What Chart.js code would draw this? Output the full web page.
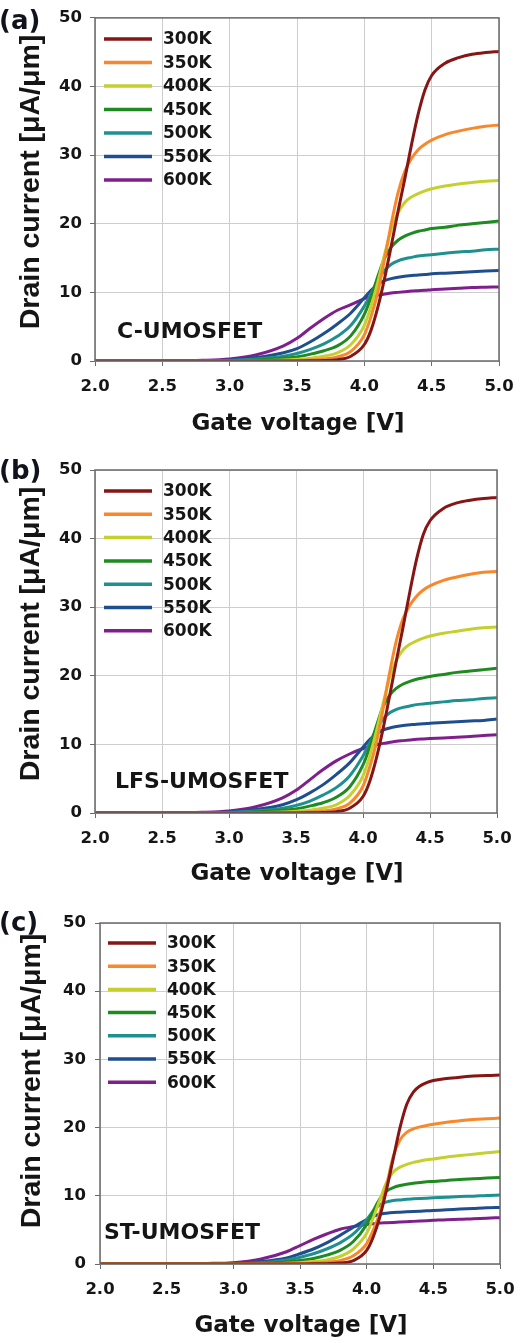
<!DOCTYPE html>
<html>
<head>
<meta charset="utf-8">
<script src="https://cdn.jsdelivr.net/npm/chart.js@4.4.1/dist/chart.umd.min.js"></script>
<style>
  html, body { margin: 0; padding: 0; background: #fff; }
  body { width: 528px; height: 1343px; position: relative; overflow: hidden; }
  canvas { position: absolute; left: 0; }
</style>
</head>
<body>
<canvas id="panelA" width="528" height="450" style="top:0px"></canvas>
<canvas id="panelB" width="528" height="450" style="top:450px"></canvas>
<canvas id="panelC" width="528" height="443" style="top:900px"></canvas>
<script>
// ---- data ----
const gateVoltage = [2.0, 2.5, 2.8, 3.0, 3.2, 3.4, 3.5, 3.6, 3.7, 3.8, 3.9, 4.0, 4.05, 4.1, 4.15,
                     4.2, 4.25, 4.3, 4.35, 4.4, 4.45, 4.5, 4.6, 4.7, 4.8, 4.9, 5.0];
const temperatures = ['300K', '350K', '400K', '450K', '500K', '550K', '600K'];
const xTicks = [2.0, 2.5, 3.0, 3.5, 4.0, 4.5, 5.0];
const yTicks = [0, 10, 20, 30, 40, 50];

// (a) C-UMOSFET
const cumos300 = [0,0,0,0,0,0.01,0.01,0.02,0.06,0.2,0.7,2.4,4.5,7.8,12.0,16.8,21.8,26.5,31.5,36.0,39.5,41.6,43.4,44.2,44.7,44.95,45.1];
const cumos350 = [0,0,0,0,0.02,0.05,0.08,0.15,0.3,0.6,1.4,3.8,6.5,10.0,14.8,20.0,24.5,27.6,29.5,30.8,31.6,32.2,33.0,33.5,33.9,34.2,34.4];
const cumos400 = [0,0,0,0.02,0.06,0.15,0.25,0.4,0.7,1.2,2.4,5.2,8.0,11.5,15.5,19.2,21.6,23.1,23.9,24.4,24.8,25.1,25.5,25.8,26.0,26.2,26.3];
const cumos450 = [0,0,0.01,0.04,0.15,0.4,0.6,1.0,1.5,2.2,3.7,6.8,9.3,12.3,15.0,16.6,17.6,18.2,18.6,18.9,19.1,19.3,19.5,19.8,20.0,20.2,20.4];
const cumos500 = [0,0,0.02,0.08,0.3,0.7,1.1,1.7,2.5,3.6,5.2,8.0,9.8,11.8,13.2,14.1,14.6,14.9,15.1,15.3,15.4,15.5,15.7,15.9,16.0,16.2,16.3];
const cumos550 = [0,0.01,0.05,0.15,0.5,1.2,1.8,2.8,4.0,5.4,7.0,9.2,10.3,11.2,11.7,12.0,12.2,12.35,12.45,12.55,12.6,12.7,12.8,12.9,13.0,13.1,13.2];
const cumos600 = [0,0.02,0.1,0.3,0.9,2.2,3.3,4.8,6.2,7.4,8.2,9.1,9.4,9.6,9.75,9.9,10.0,10.1,10.2,10.25,10.3,10.4,10.5,10.6,10.7,10.75,10.8];

// (b) LFS-UMOSFET
const lfs300 = [0,0,0,0,0,0.01,0.01,0.02,0.06,0.2,0.7,2.4,4.6,8.0,12.3,17.2,22.3,27.2,32.3,37.0,40.6,42.6,44.4,45.2,45.6,45.85,46.0];
const lfs350 = [0,0,0,0,0.02,0.05,0.08,0.15,0.3,0.6,1.4,3.9,6.7,10.3,15.2,20.6,25.2,28.4,30.3,31.6,32.5,33.1,33.9,34.4,34.8,35.1,35.2];
const lfs400 = [0,0,0,0.02,0.06,0.15,0.25,0.4,0.7,1.2,2.5,5.4,8.3,11.9,16.0,19.8,22.3,23.8,24.6,25.1,25.5,25.8,26.2,26.5,26.8,27.0,27.1];
const lfs450 = [0,0,0.01,0.04,0.15,0.4,0.6,1.0,1.5,2.3,3.8,7.0,9.6,12.7,15.5,17.2,18.2,18.8,19.2,19.5,19.7,19.9,20.2,20.5,20.7,20.9,21.1];
const lfs500 = [0,0,0.02,0.08,0.3,0.7,1.1,1.7,2.6,3.7,5.4,8.3,10.2,12.2,13.7,14.6,15.1,15.4,15.6,15.8,15.9,16.0,16.2,16.4,16.5,16.7,16.8];
const lfs550 = [0,0.01,0.05,0.15,0.5,1.2,1.9,2.9,4.1,5.6,7.3,9.6,10.7,11.6,12.1,12.4,12.6,12.75,12.85,12.95,13.0,13.1,13.2,13.3,13.4,13.5,13.7];
const lfs600 = [0,0.02,0.1,0.3,0.9,2.2,3.3,4.8,6.3,7.6,8.6,9.4,9.7,9.95,10.15,10.3,10.45,10.55,10.65,10.75,10.8,10.85,10.95,11.05,11.15,11.3,11.4];

// (c) ST-UMOSFET
const st300 = [0,0,0,0,0,0,0.01,0.02,0.05,0.15,0.5,2.0,4.0,7.0,11.0,15.5,20.0,23.4,25.2,26.1,26.6,26.9,27.2,27.4,27.55,27.65,27.7];
const st350 = [0,0,0,0,0.01,0.04,0.07,0.12,0.25,0.5,1.2,3.0,5.0,7.6,11.6,15.8,18.2,19.3,19.8,20.1,20.3,20.5,20.8,21.0,21.2,21.3,21.4];
const st400 = [0,0,0,0.01,0.04,0.12,0.2,0.35,0.6,1.1,2.2,4.5,6.8,9.5,12.0,13.5,14.2,14.6,14.9,15.1,15.3,15.4,15.7,15.9,16.1,16.3,16.5];
const st450 = [0,0,0.01,0.03,0.1,0.3,0.5,0.8,1.3,2.0,3.3,5.8,7.8,9.6,10.7,11.2,11.5,11.7,11.85,11.95,12.05,12.1,12.25,12.4,12.5,12.6,12.7];
const st500 = [0,0,0.02,0.06,0.2,0.6,1.0,1.5,2.2,3.1,4.4,6.5,7.8,8.7,9.1,9.3,9.4,9.5,9.55,9.6,9.65,9.7,9.8,9.9,9.95,10.05,10.1];
const st550 = [0,0.01,0.04,0.1,0.35,0.9,1.5,2.2,3.1,4.2,5.4,6.5,7.0,7.3,7.45,7.55,7.6,7.65,7.7,7.75,7.8,7.85,7.95,8.05,8.15,8.25,8.3];
const st600 = [0,0.02,0.08,0.2,0.7,1.8,2.7,3.6,4.4,5.1,5.5,5.8,5.9,6.0,6.05,6.1,6.15,6.2,6.25,6.3,6.35,6.4,6.5,6.55,6.65,6.7,6.8];

// line colours, one per temperature
const lineColors = ['#861515', '#f7882c', '#c4d02e', '#1f8a20', '#1f9090', '#1f4e8e', '#7e1f8c'];

const FONT = 'DejaVu Sans';
const TITLE_FONT = 'Liberation Sans';
const TEXT = '#151515';

// frame, legend, panel label and axis titles
const decorations = {
    id: 'decorations',
    afterDatasetsDraw(chart, args, o) {
        const { ctx, chartArea: a } = chart;
        ctx.save();

        // plot frame
        ctx.strokeStyle = '#6a6a6a';
        ctx.lineWidth = 1.5;
        ctx.strokeRect(a.left, a.top, a.right - a.left, a.bottom - a.top);

        // legend (top-left inside the plot)
        ctx.font = `bold ${o.legendSize}px "${FONT}"`;
        ctx.textBaseline = 'middle';
        ctx.textAlign = 'left';
        chart.data.datasets.forEach((ds, i) => {
            const y = a.top + o.legendTop + i * o.legendStep;
            ctx.strokeStyle = ds.borderColor;
            ctx.lineWidth = 3.5;
            ctx.beginPath();
            ctx.moveTo(a.left + o.legendX, y);
            ctx.lineTo(a.left + o.legendX + 48, y);
            ctx.stroke();
            ctx.fillStyle = TEXT;
            ctx.fillText(ds.label, a.left + o.legendX + 59, y + 1);
        });

        // device name
        ctx.font = `bold 22px "${FONT}"`;
        ctx.fillText(o.device, a.left + o.deviceX, a.bottom - o.deviceY);

        // x title
        ctx.font = `bold 23px "${FONT}"`;
        ctx.textAlign = 'center';
        ctx.fillText('Gate voltage [V]', (a.left + a.right) / 2 + 1, o.xTitleY);

        // panel label
        ctx.textAlign = 'left';
        ctx.textBaseline = 'alphabetic';
        ctx.font = `bold 26px "${FONT}"`;
        ctx.fillStyle = '#10131c';
        ctx.fillText(o.panel, -1, o.panelY);

        // y title
        ctx.fillStyle = TEXT;
        ctx.textAlign = 'center';
        ctx.textBaseline = 'middle';
        ctx.font = `bold 28.5px "${TITLE_FONT}"`;
        ctx.translate(o.yTitleX, o.yTitleY);
        ctx.rotate(-Math.PI / 2);
        ctx.fillText('Drain current [\u03bcA/\u03bcm]', 0, 0);

        ctx.restore();
    }
};

function makePanel(canvasId, series, p) {
    const datasets = temperatures.map((t, i) => ({
        label: t,
        data: gateVoltage.map((v, k) => ({ x: v, y: series[i][k] })),
        borderColor: lineColors[i],
        borderWidth: 3,
        pointRadius: 0,
        fill: false,
        cubicInterpolationMode: 'monotone'
    }));

    return new Chart(document.getElementById(canvasId), {
        type: 'line',
        data: { datasets },
        options: {
            responsive: false,
            animation: false,
            devicePixelRatio: 1,
            layout: { padding: { left: 0, top: p.top, right: p.right, bottom: 0 } },
            plugins: {
                legend: { display: false },
                tooltip: { enabled: false },
                decorations: p.deco
            },
            scales: {
                x: {
                    type: 'linear',
                    min: 2, max: 5,
                    afterBuildTicks: s => { s.ticks = xTicks.map(v => ({ value: v })); },
                    afterFit: s => { s.height = p.xHeight; },
                    grid: { color: '#cdcdcd', lineWidth: 1, tickLength: 5, tickColor: '#6a6a6a' },
                    border: { display: false },
                    ticks: {
                        padding: 11,
                        color: TEXT,
                        font: { family: FONT, size: 16.5, weight: 'bold' },
                        callback: v => v.toFixed(1),
                        maxRotation: 0
                    }
                },
                y: {
                    type: 'linear',
                    min: 0, max: 50,
                    afterBuildTicks: s => { s.ticks = yTicks.map(v => ({ value: v })); },
                    afterFit: s => { s.width = p.left; },
                    grid: { color: '#cdcdcd', lineWidth: 1, tickLength: 5, tickColor: '#6a6a6a' },
                    border: { display: false },
                    ticks: {
                        padding: p.yPad,
                        color: TEXT,
                        font: { family: FONT, size: 16.5, weight: 'bold' }
                    }
                }
            }
        },
        plugins: [decorations]
    });
}

makePanel('panelA', [cumos300, cumos350, cumos400, cumos450, cumos500, cumos550, cumos600], {
    top: 16, right: 29, left: 95, xHeight: 89, yPad: 8,
    deco: { panel: '(a)', panelY: 29, device: 'C-UMOSFET', deviceX: 22, deviceY: 29,
            legendX: 9, legendTop: 21, legendStep: 23.5, legendSize: 17,
            xTitleY: 424, yTitleX: 31, yTitleY: 182 }
});

makePanel('panelB', [lfs300, lfs350, lfs400, lfs450, lfs500, lfs550, lfs600], {
    top: 20, right: 31, left: 95, xHeight: 87, yPad: 8,
    deco: { panel: '(b)', panelY: 29, device: 'LFS-UMOSFET', deviceX: 20, deviceY: 31,
            legendX: 9, legendTop: 21, legendStep: 23.3, legendSize: 17,
            xTitleY: 424, yTitleX: 31, yTitleY: 184 }
});

makePanel('panelC', [st300, st350, st400, st450, st500, st550, st600], {
    top: 23, right: 28, left: 100, xHeight: 79, yPad: 9,
    deco: { panel: '(c)', panelY: 31, device: 'ST-UMOSFET', deviceX: 4, deviceY: 31,
            legendX: 8, legendTop: 20, legendStep: 23.2, legendSize: 17,
            xTitleY: 426, yTitleX: 32, yTitleY: 181 }
});
</script>
</body>
</html>
